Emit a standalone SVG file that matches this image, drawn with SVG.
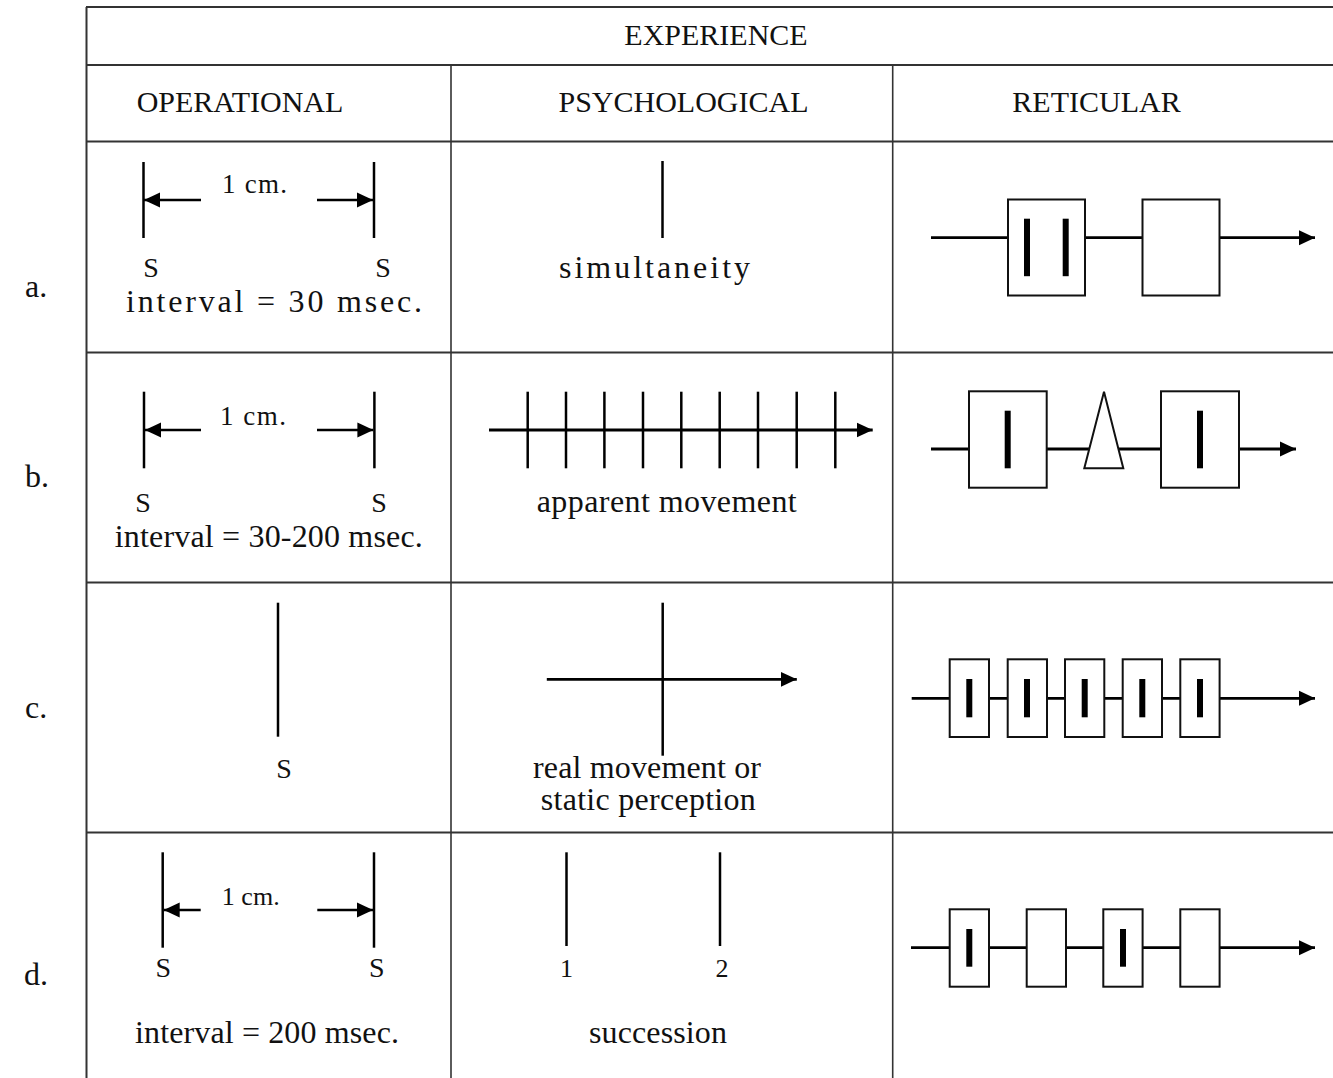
<svg xmlns="http://www.w3.org/2000/svg" width="1333" height="1078" viewBox="0 0 1333 1078">
<style>
.grid{stroke:#333;stroke-width:2;fill:none}
.ln{stroke:#000;stroke-width:2.5;fill:none}
.ax{stroke:#000;stroke-width:2.8;fill:none}
.box{stroke:#111;stroke-width:2;fill:#fff}
.bar{fill:#000}
text{font-family:"Liberation Serif","Times New Roman",serif;fill:#111}
.hd{font-size:30px;text-anchor:middle}
.tx{font-size:32px;text-anchor:middle}
.s{font-size:28px;text-anchor:middle}
.cm{font-size:27px}
</style>
<defs>
<marker id="ah" markerUnits="userSpaceOnUse" markerWidth="17" markerHeight="16" refX="16" refY="8" orient="auto">
<path d="M0,0.5 L16,8 L0,15.5 Z" fill="#000"/>
</marker>
</defs>

<g id="table">
<line class="grid" x1="86.5" y1="7" x2="86.5" y2="1078"/>
<line class="grid" x1="86" y1="7" x2="1333" y2="7"/>
<line class="grid" x1="86" y1="65" x2="1333" y2="65"/>
<line class="grid" x1="86" y1="141.5" x2="1333" y2="141.5"/>
<line class="grid" x1="86" y1="352.5" x2="1333" y2="352.5"/>
<line class="grid" x1="86" y1="582.5" x2="1333" y2="582.5"/>
<line class="grid" x1="86" y1="832.5" x2="1333" y2="832.5"/>
<line class="grid" x1="451" y1="65" x2="451" y2="1078" style="stroke-width:1.6"/>
<line class="grid" x1="892.7" y1="65" x2="892.7" y2="1078" style="stroke-width:1.6"/>
</g>

<g id="headers">
<text class="hd" x="716" y="45">EXPERIENCE</text>
<text class="hd" x="240" y="111.5">OPERATIONAL</text>
<text class="hd" x="683.5" y="111.5">PSYCHOLOGICAL</text>
<text class="hd" x="1096.5" y="111.5">RETICULAR</text>
</g>

<g id="row-labels">
<text x="25" y="297" style="font-size:32px">a.</text>
<text x="25" y="487" style="font-size:32px">b.</text>
<text x="25" y="718" style="font-size:32px">c.</text>
<text x="24" y="985" style="font-size:32px">d.</text>
</g>

<g id="op-a">
<line class="ln" x1="143.5" y1="162" x2="143.5" y2="238"/>
<line class="ln" x1="374" y1="162" x2="374" y2="238"/>
<line class="ln" x1="201" y1="200" x2="144" y2="200" marker-end="url(#ah)"/>
<line class="ln" x1="317" y1="200" x2="373" y2="200" marker-end="url(#ah)"/>
<text class="cm" x="222" y="193" textLength="65" lengthAdjust="spacing">1 cm.</text>
<text class="s" x="151" y="277">S</text>
<text class="s" x="383" y="277">S</text>
<text class="tx" x="274" y="312" textLength="296" lengthAdjust="spacing">interval = 30 msec.</text>
</g>

<g id="psy-a">
<line class="ln" x1="662.5" y1="161" x2="662.5" y2="238"/>
<text class="tx" x="654.5" y="277.5" textLength="191" lengthAdjust="spacing">simultaneity</text>
</g>

<g id="ret-a">
<line class="ax" x1="931" y1="237.7" x2="1315" y2="237.7" marker-end="url(#ah)"/>
<rect class="box" x="1008" y="199.5" width="77" height="96"/>
<rect class="box" x="1142.5" y="199.5" width="77" height="96"/>
<rect class="bar" x="1024" y="218.7" width="6" height="57.5"/>
<rect class="bar" x="1062.7" y="218.7" width="6" height="57.5"/>
</g>

<g id="op-b">
<line class="ln" x1="144" y1="391.7" x2="144" y2="468.3"/>
<line class="ln" x1="374.4" y1="391.7" x2="374.4" y2="468.3"/>
<line class="ln" x1="201" y1="430" x2="145" y2="430" marker-end="url(#ah)"/>
<line class="ln" x1="317" y1="430" x2="373.4" y2="430" marker-end="url(#ah)"/>
<text class="cm" x="220" y="425" textLength="66" lengthAdjust="spacing">1 cm.</text>
<text class="s" x="143" y="511.7">S</text>
<text class="s" x="379" y="511.7">S</text>
<text class="tx" x="268.8" y="546.7" textLength="308" lengthAdjust="spacing">interval = 30-200 msec.</text>
</g>

<g id="psy-b">
<line class="ax" x1="489" y1="430" x2="872.7" y2="430" marker-end="url(#ah)"/>
<line class="ln" x1="527.7" y1="391.7" x2="527.7" y2="468.3"/>
<line class="ln" x1="566" y1="391.7" x2="566" y2="468.3"/>
<line class="ln" x1="604.4" y1="391.7" x2="604.4" y2="468.3"/>
<line class="ln" x1="643" y1="391.7" x2="643" y2="468.3"/>
<line class="ln" x1="681.3" y1="391.7" x2="681.3" y2="468.3"/>
<line class="ln" x1="719.7" y1="391.7" x2="719.7" y2="468.3"/>
<line class="ln" x1="758" y1="391.7" x2="758" y2="468.3"/>
<line class="ln" x1="796.7" y1="391.7" x2="796.7" y2="468.3"/>
<line class="ln" x1="835.3" y1="391.7" x2="835.3" y2="468.3"/>
<text class="tx" x="666.7" y="511.7" textLength="260" lengthAdjust="spacing">apparent movement</text>
</g>

<g id="ret-b">
<line class="ax" x1="931" y1="449" x2="1296" y2="449" marker-end="url(#ah)"/>
<rect class="box" x="969" y="391.3" width="77.7" height="96.4"/>
<rect class="bar" x="1004.7" y="410.7" width="6" height="57.6"/>
<polygon class="box" points="1104,391.7 1123.3,468.3 1084.3,468.3"/>
<rect class="box" x="1161" y="391.3" width="78" height="96.4"/>
<rect class="bar" x="1197" y="410.7" width="6" height="57.6"/>
</g>

<g id="op-c">
<line class="ln" x1="278" y1="602.7" x2="278" y2="736.7"/>
<text class="s" x="284" y="777.5">S</text>
</g>

<g id="psy-c">
<line class="ln" x1="662.7" y1="602.7" x2="662.7" y2="755.7"/>
<line class="ax" x1="546.8" y1="679.3" x2="796.8" y2="679.3" marker-end="url(#ah)"/>
<text class="tx" x="647" y="777.5" textLength="228" lengthAdjust="spacing">real movement or</text>
<text class="tx" x="648.3" y="810" textLength="215" lengthAdjust="spacing">static perception</text>
</g>

<g id="ret-c">
<line class="ax" x1="911.7" y1="698.3" x2="1315" y2="698.3" marker-end="url(#ah)"/>
<rect class="box" x="949.7" y="659.3" width="39.3" height="77.7"/>
<rect class="box" x="1007.7" y="659.3" width="39.3" height="77.7"/>
<rect class="box" x="1065" y="659.3" width="39.3" height="77.7"/>
<rect class="box" x="1122.7" y="659.3" width="39.3" height="77.7"/>
<rect class="box" x="1180.3" y="659.3" width="39.3" height="77.7"/>
<rect class="bar" x="966.3" y="679" width="6" height="38.3"/>
<rect class="bar" x="1024" y="679" width="6" height="38.3"/>
<rect class="bar" x="1081.7" y="679" width="6" height="38.3"/>
<rect class="bar" x="1139.3" y="679" width="6" height="38.3"/>
<rect class="bar" x="1197" y="679" width="6" height="38.3"/>
</g>

<g id="op-d">
<line class="ln" x1="162.7" y1="852.3" x2="162.7" y2="947.7"/>
<line class="ln" x1="374" y1="852.3" x2="374" y2="947.7"/>
<line class="ln" x1="200.7" y1="910" x2="163.7" y2="910" marker-end="url(#ah)"/>
<line class="ln" x1="317.3" y1="910" x2="373" y2="910" marker-end="url(#ah)"/>
<text x="221.7" y="905" style="font-size:26px" textLength="58" lengthAdjust="spacing">1 cm.</text>
<text class="s" x="163.3" y="976.7">S</text>
<text class="s" x="376.7" y="976.7">S</text>
<text class="tx" x="267" y="1043.3" textLength="264" lengthAdjust="spacing">interval = 200 msec.</text>
</g>

<g id="psy-d">
<line class="ln" x1="566.5" y1="852.3" x2="566.5" y2="946"/>
<line class="ln" x1="720" y1="852.3" x2="720" y2="946"/>
<text class="s" x="566.5" y="976.7" style="font-size:26px">1</text>
<text class="s" x="722" y="976.7" style="font-size:26px">2</text>
<text class="tx" x="658" y="1043.3" textLength="138" lengthAdjust="spacing">succession</text>
</g>

<g id="ret-d">
<line class="ax" x1="911" y1="947.7" x2="1315" y2="947.7" marker-end="url(#ah)"/>
<rect class="box" x="949.7" y="909.3" width="39.3" height="77.4"/>
<rect class="box" x="1026.7" y="909.3" width="39.3" height="77.4"/>
<rect class="box" x="1103.3" y="909.3" width="39.3" height="77.4"/>
<rect class="box" x="1180.3" y="909.3" width="39.3" height="77.4"/>
<rect class="bar" x="966.3" y="929" width="6" height="37.7"/>
<rect class="bar" x="1120" y="929" width="6" height="37.7"/>
</g>
</svg>
